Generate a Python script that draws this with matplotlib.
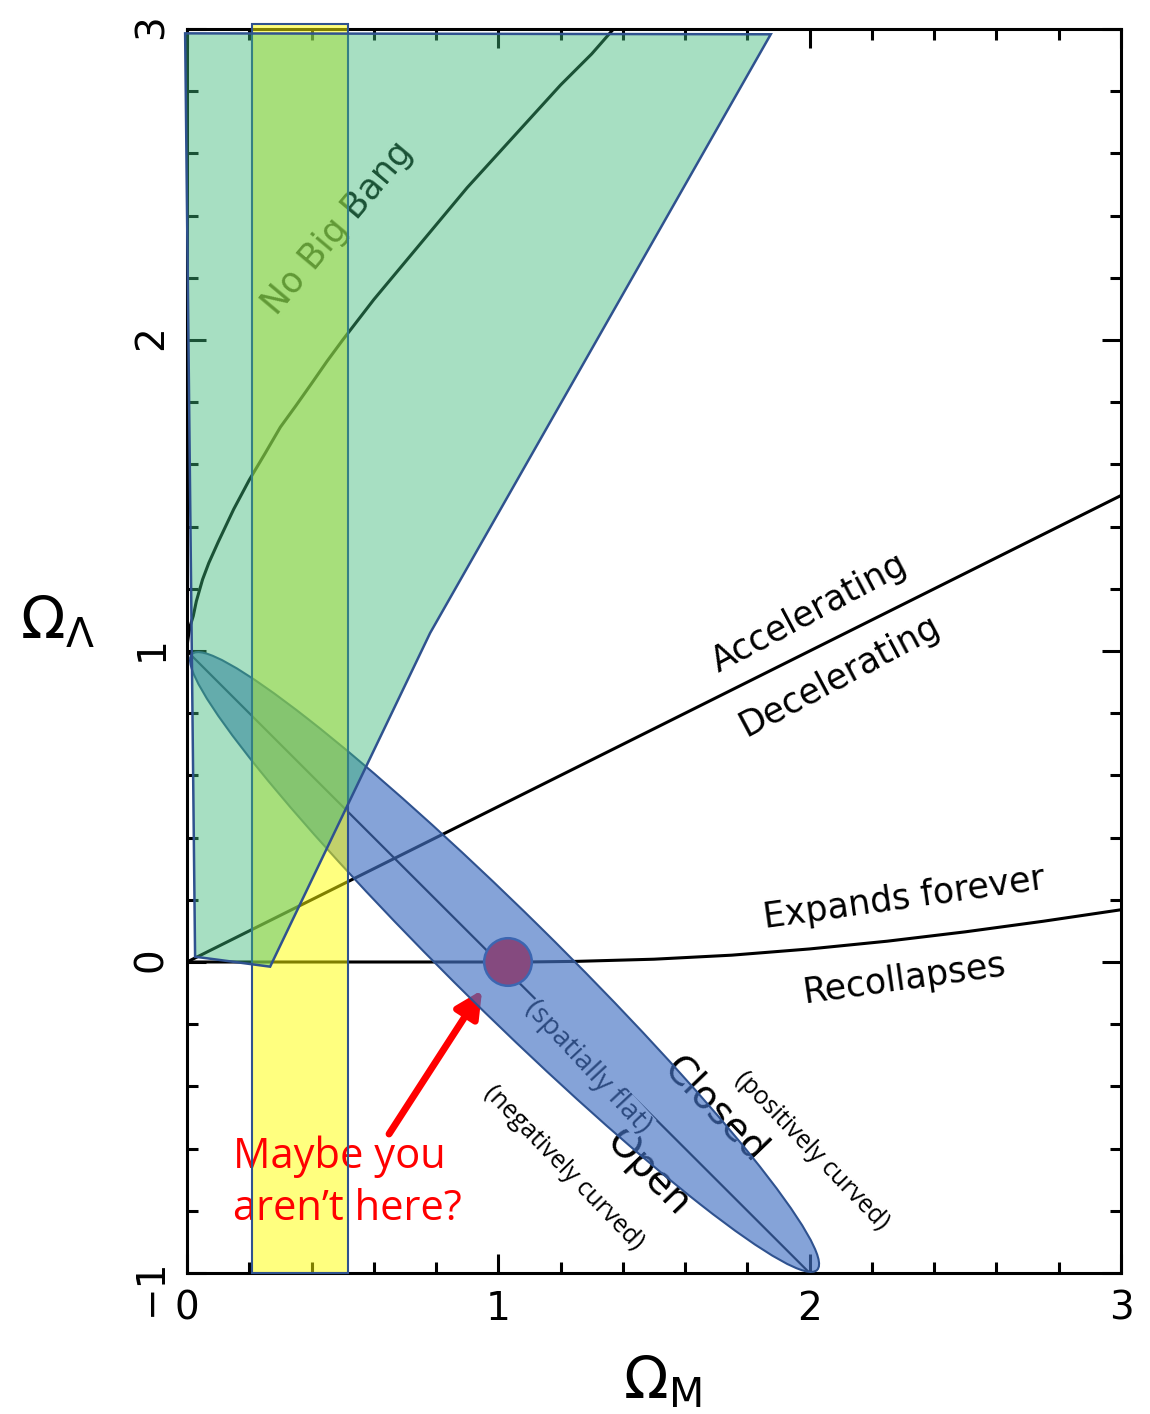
import matplotlib.pyplot as plt
from matplotlib.patches import Circle, Ellipse, Polygon, Rectangle

plt.rcParams['font.family'] = 'DejaVu Sans'
plt.rcParams['mathtext.fontset'] = 'dejavusans'

# boundary curves in the (Omega_M, Omega_Lambda) plane
no_big_bang_m = [0.0, 0.0005, 0.002, 0.005, 0.01, 0.02, 0.03, 0.05, 0.07, 0.1, 0.15,
                 0.2, 0.25, 0.3, 0.35, 0.4, 0.45, 0.5, 0.6, 0.7, 0.8, 0.9, 1.0,
                 1.1, 1.2, 1.3, 1.37]
no_big_bang_l = [1.0, 1.015, 1.03, 1.051, 1.08, 1.112, 1.16, 1.23, 1.283, 1.35, 1.456,
                 1.55, 1.634, 1.72, 1.789, 1.86, 1.932, 2.0, 2.13, 2.25, 2.37, 2.49, 2.6,
                 2.71, 2.82, 2.92, 3.0]

accel_m = [0.0, 3.0]
accel_l = [0.0, 1.5]

recollapse_m = [0.0, 1.0, 1.1, 1.25, 1.5, 1.75, 2.0, 2.25, 2.5, 2.75, 3.0]
recollapse_l = [0.0, 0.0, 0.0002, 0.002, 0.009, 0.022, 0.042, 0.067, 0.097, 0.131, 0.168]

flat_m = [0.0, 2.0]
flat_l = [1.0, -1.0]

# shaded regions
green_m = [-0.006, 1.875, 0.781, 0.267, 0.026]
green_l = [2.986, 2.983, 1.058, -0.015, 0.017]

band_m = (0.21, 0.516)
band_l = (-1.0, 3.015)

ellipse_center = (1.02, 0.0)
ellipse_len = 2.82
ellipse_wid = 0.32
ellipse_angle = -44.6

dot_center = (1.031, 0.0)
dot_radius = 0.0765

arrow_tail = (0.649, -0.553)
arrow_tip = (0.948, -0.090)

# region labels: text, position, rotation
region_labels = [
    ('No Big Bang', 0.485, 2.36, 50),
    ('Accelerating', 2.0, 1.122, 28),
    ('Decelerating', 2.098, 0.92, 28),
    ('Expands forever', 2.303, 0.206, 8),
    ('Recollapses', 2.306, -0.055, 8),
]
curv_labels = [
    ('(positively curved)', 2.008, -0.608, -46),
    ('(negatively curved)', 1.211, -0.662, -46),
]

fig = plt.figure(figsize=(11.5, 14.14), dpi=100)
ax = fig.add_axes([187 / 1150, 141 / 1414, 934 / 1150, 1244 / 1414])
ax.set_xlim(0, 3)
ax.set_ylim(-1, 3)

ax.plot(no_big_bang_m, no_big_bang_l, color='black', lw=2.2, zorder=2)
ax.plot(accel_m, accel_l, color='black', lw=2.2, zorder=2)
ax.plot(recollapse_m, recollapse_l, color='black', lw=2.2, zorder=2)
ax.plot(flat_m, flat_l, color='black', lw=1.6, zorder=2)

for txt, x, y, rot in region_labels:
    ax.text(x, y, txt, fontsize=25, rotation=rot, rotation_mode='anchor',
            ha='center', va='center', zorder=2)

ax.text(1.696, -0.476, 'Closed', fontsize=28, rotation=-46,
        rotation_mode='anchor', ha='center', va='center', zorder=2)
ax.text(1.481, -0.678, 'Open', fontsize=28, rotation=-46,
        rotation_mode='anchor', ha='center', va='center', zorder=2)
ax.text(1.288, -0.338, '(spatially flat)', fontsize=20, family='Open Sans',
        rotation=-47, rotation_mode='anchor', ha='center', va='center',
        bbox=dict(fc='white', ec='none', pad=0), zorder=2.2)
for txt, x, y, rot in curv_labels:
    ax.text(x, y, txt, fontsize=18, family='Open Sans', rotation=rot,
            rotation_mode='anchor', ha='center', va='center', zorder=2)

ax.add_patch(Circle(dot_center, dot_radius, fc='red', ec='#2f528f', lw=1.8, zorder=3))
ax.annotate('', xy=arrow_tip, xytext=arrow_tail, zorder=3,
            arrowprops=dict(arrowstyle='-|>', color='red', lw=5, mutation_scale=40,
                            shrinkA=0, shrinkB=0))

ax.add_patch(Ellipse(ellipse_center, ellipse_len, ellipse_wid, angle=ellipse_angle,
                     fc='#4472c4', alpha=0.65, ec='none', zorder=4))
ax.add_patch(Ellipse(ellipse_center, ellipse_len, ellipse_wid, angle=ellipse_angle,
                     fc='none', ec='#2f528f', lw=1.5, zorder=4.1))

band_w = band_m[1] - band_m[0]
band_h = band_l[1] - band_l[0]
ax.add_patch(Rectangle((band_m[0], band_l[0]), band_w, band_h, fc='yellow', alpha=0.5,
                       ec='none', zorder=5, clip_on=False))
ax.text(0.147, -0.71, 'Maybe you\naren\u2019t here?', color='red', fontsize=30,
        family='Open Sans', ha='left', va='center', linespacing=1.3, zorder=6)
ax.add_patch(Rectangle((band_m[0], band_l[0]), band_w, band_h, fc='none',
                       ec='#2f528f', lw=1.5, zorder=6.5, clip_on=False))

ax.add_patch(Polygon(list(zip(green_m, green_l)), closed=True, fc='#3cb878', alpha=0.45,
                     ec='none', zorder=7, clip_on=False))
ax.add_patch(Polygon(list(zip(green_m, green_l)), closed=True, fc='none',
                     ec='#2f528f', lw=1.8, zorder=7.1, clip_on=False))

ax.set_xticks([0, 1, 2, 3])
ax.set_yticks([-1, 0, 1, 2, 3])
ax.set_xticks([i * 0.2 for i in range(16)], minor=True)
ax.set_yticks([-1 + i * 0.2 for i in range(21)], minor=True)
ax.tick_params(which='both', direction='in', top=True, right=True, width=2.2,
               labelsize=28)
ax.tick_params(which='major', length=14)
ax.tick_params(which='minor', length=8)
ax.tick_params(axis='x', pad=12)
ax.tick_params(axis='y', labelrotation=90, pad=12)
for s in ax.spines.values():
    s.set_linewidth(2.2)

fig.text(57 / 1150, 1 - 622 / 1414, r'$\Omega_\Lambda$', fontsize=42,
         ha='center', va='center')
fig.text(662 / 1150, 1 - 1382 / 1414, r'$\Omega_\mathrm{M}$', fontsize=42,
         ha='center', va='center')

fig.savefig('out.png', dpi=100)
